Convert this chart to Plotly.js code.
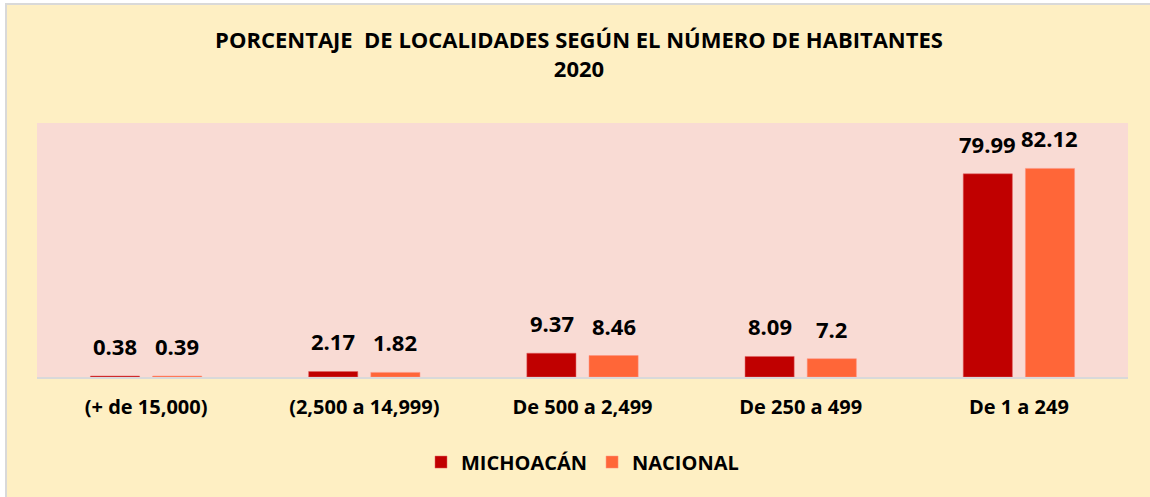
<!DOCTYPE html>
<html>
<head>
<meta charset="utf-8">
<script src="https://cdn.plot.ly/plotly-3.0.1.min.js"></script>
<style>
  html, body { margin:0; padding:0; background:#ffffff; overflow:hidden; width:1150px; height:497px; }
  #wrap { position:absolute; left:5px; top:3px; width:1150px; height:500px; border-left:2px solid #d9d9d9; border-top:2px solid #d9d9d9; background:#FEEFC3; }
  #chart { position:absolute; left:0; top:0; }
</style>
</head>
<body>
<div id="wrap"><div id="chart"></div></div>
<script>
const categories = ["(+ de 15,000)", "(2,500 a 14,999)", "De 500 a 2,499", "De 250 a 499", "De 1 a 249"];
const michoacan = [0.38, 2.17, 9.37, 8.09, 79.99];
const nacional = [0.39, 1.82, 8.46, 7.2, 82.12];
const seriesNames = ["MICHOACÁN", "NACIONAL"];
const titleText = "PORCENTAJE  DE LOCALIDADES SEGÚN EL NÚMERO DE HABITANTES<br>2020";

const FONT = "'Open Sans', sans-serif";
const colors = ["#C00000", "#FF6638"];

const traces = [
  { type:"bar", name:seriesNames[0], x:categories, y:michoacan, marker:{color:colors[0], line:{color:"#E06060", width:0.5}}, hoverinfo:"x+y" },
  { type:"bar", name:seriesNames[1], x:categories, y:nacional, marker:{color:colors[1], line:{color:"#FF9080", width:0.5}}, hoverinfo:"x+y" }
];

const annotations = [];
[michoacan, nacional].forEach((arr, s) => {
  arr.forEach((v, i) => {
    annotations.push({
      x: categories[i], y: v, xref:"x", yref:"y",
      text: String(v), showarrow:false,
      xshift: s === 0 ? -31 : 31, yshift: 13, yanchor:"bottom",
      font:{family:FONT, size:22, color:"#000000", weight:"bold"}
    });
  });
});

const layout = {
  width:1144, height:493,
  paper_bgcolor:"#FEEFC3",
  plot_bgcolor:"#F9DBD4",
  margin:{l:30, r:23, t:118, b:121},
  title:{ text:titleText, x:0.5, xanchor:"center", y:0.912, yanchor:"top",
          font:{family:FONT, size:22, color:"#000000", weight:"bold"} },
  barmode:"group", bargap:0.43, bargroupgap:0.21,
  xaxis:{ type:"category", showline:true, linecolor:"#D9D9D9", linewidth:1.5, ticks:"", showgrid:false,
          tickfont:{family:FONT, size:20, color:"#000000", weight:"bold"}, ticklabelstandoff:11, fixedrange:true },
  yaxis:{ range:[0,100], visible:false, showgrid:false, zeroline:false, fixedrange:true },
  showlegend:true,
  legend:{ orientation:"h", x:0.5, xanchor:"center", y:-0.335, yanchor:"middle",
           font:{family:FONT, size:20, color:"#000000", weight:"bold"}, bgcolor:"rgba(0,0,0,0)", itemwidth:30 },
  annotations: annotations
};

Plotly.newPlot("chart", traces, layout, {displayModeBar:false, staticPlot:true});
</script>
</body>
</html>
